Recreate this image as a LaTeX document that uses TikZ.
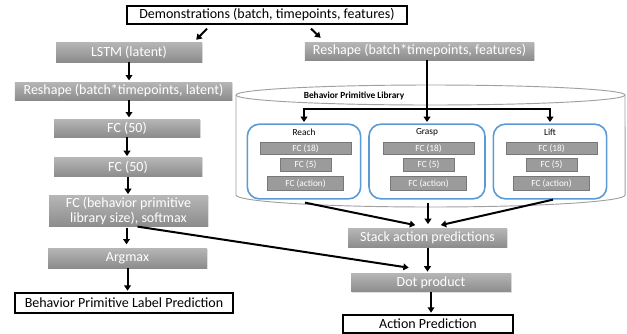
\documentclass[tikz,border=0pt]{standalone}
\usepackage{fontspec}
\setmainfont{Carlito}
\usetikzlibrary{arrows.meta,positioning,calc,shadows}
\definecolor{boxtop}{RGB}{182,182,182}
\definecolor{boxbot}{RGB}{140,140,140}
\definecolor{subgray}{RGB}{155,155,155}
\definecolor{subline}{RGB}{120,120,120}
\definecolor{libblue}{RGB}{91,155,213}
\definecolor{cylgray}{RGB}{160,160,160}

\begin{document}
\begin{tikzpicture}[
  x=0.75pt, y=-0.75pt,
  layer/.style={rectangle, top color=boxtop, bottom color=boxbot, draw=none, text=white, font=\fontsize{10.5}{12}\selectfont, align=center, inner sep=0pt, drop shadow={opacity=0.25, shadow xshift=0.6pt, shadow yshift=-0.6pt}},
  io/.style={rectangle, draw=black, line width=1.5pt, fill=white, font=\fontsize{10.5}{12}\selectfont, inner sep=0pt},
  prim/.style={rectangle, rounded corners=9pt, draw=libblue, line width=1.2pt, fill=white, minimum width=85pt, minimum height=56pt},
  sub/.style={rectangle, fill=subgray, draw=subline, line width=0.4pt, text=white, font=\fontsize{7}{8}\selectfont, inner sep=0pt, minimum height=9.5pt},
  arr/.style={-{Triangle[length=4pt,width=5pt]}, line width=1.5pt, shorten >=1pt}
]
\useasboundingbox (0,0) rectangle (627,333);

% library cylinder
\filldraw[draw=cylgray, fill=white, line width=0.7pt] (236,95) -- (236,195) arc[start angle=180, end angle=360, x radius=145.9pt, y radius=9pt] -- (625,95);
\draw[cylgray, line width=0.7pt] (430.5,95) ellipse[x radius=145.9pt, y radius=7.5pt];
\node[font=\fontsize{7}{8}\selectfont\bfseries] (libname) at (354,96) {Behavior Primitive Library};

% input and left branch
\node[io, minimum width=210pt, minimum height=13pt] (demo) at (267,15) {Demonstrations (batch, timepoints, features)};
\node[layer, minimum width=109.5pt, minimum height=15pt] (lstm) at (129,52) {LSTM (latent)};
\node[layer, minimum width=163pt, minimum height=13.5pt] (rlat) at (123.5,91) {Reshape (batch*timepoints, latent)};
\node[layer, minimum width=109.5pt, minimum height=13.5pt] (fca) at (127,128) {FC (50)};
\node[layer, minimum width=111pt, minimum height=14pt] (fcb) at (128,167) {FC (50)};
\node[layer, minimum width=119pt, minimum height=23pt] (soft) at (128.5,211) {FC (behavior primitive\\[-1pt]library size), softmax};
\node[layer, minimum width=119pt, minimum height=15pt] (argmax) at (127.5,258) {Argmax};
\node[io, minimum width=163.5pt, minimum height=15pt] (label) at (124,303) {Behavior Primitive Label Prediction};

% right branch
\node[layer, minimum width=172pt, minimum height=13.5pt] (rfeat) at (419.5,51) {Reshape (batch*timepoints, features)};
\node[prim] (reach) at (304,161.5) {};
\node[prim, minimum width=87pt] (grasp) at (427,161.5) {};
\node[prim] (lift) at (550,161.5) {};
\foreach \p/\t in {reach/Reach, grasp/Grasp, lift/Lift} {
  \node[font=\fontsize{7}{8}\selectfont] (\p-name) at ($(\p.north)+(0,9)$) {\t};
  \node[sub, minimum width=68pt] (\p-fc18) at ($(\p.north)+(1.5,25)$) {FC (18)};
  \node[sub, minimum width=38pt] (\p-fc5) at ($(\p.north)+(1.5,41.5)$) {FC (5)};
  \node[sub, minimum width=57pt, minimum height=10pt] (\p-fcact) at ($(\p.north)+(1.5,60)$) {FC (action)};
}
\node[layer, minimum width=119pt, minimum height=14pt] (stack) at (427.5,238) {Stack action predictions};
\node[layer, minimum width=120pt, minimum height=14pt] (dot) at (431,282.5) {Dot product};
\node[io, minimum width=127.5pt, minimum height=13.5pt] (action) at (428,324) {Action Prediction};
\coordinate (split) at (427,109);

\draw[arr] ($(demo.south west)+(81,4)$) -- ($(lstm.north east)+(-7,-1)$);
\draw[arr] ($(demo.south west)+(185,4)$) -- ($(rfeat.north west)+(17,-3)$);
\draw[arr] (lstm) -- (lstm |- rlat.north);
\draw[arr] (lstm |- rlat.south) -- (lstm |- fca.north);
\draw[arr] (fca) -- (fca |- fcb.north);
\draw[arr] (fcb) -- (fcb |- soft.north);
\draw[arr] ($(soft.south)+(-2,1)$) -- ($(argmax.north)+(-1,-2)$);
\draw[arr] (argmax) -- (argmax |- label.north);

\draw[arr] (grasp |- rfeat.south) -- (grasp);
\draw[arr] (split) -| (reach);
\draw[arr] (split) -| (lift);
\draw[arr] ($(reach.south)+(1,3)$) -- ($(stack.north)+(-11,-3)$);
\draw[arr] ($(grasp.south)+(1,3)$) -- ($(stack.north)+(0.5,-3)$);
\draw[arr] ($(lift.south)+(3,0)$) -- ($(stack.north)+(12,-3)$);
\draw[arr] (stack) -- (stack |- dot.north);
\draw[arr] ($(soft.south)+(9,0)$) -- ($(dot.north)+(-21,-5)$);
\draw[arr] (dot) -- (dot |- action.north);
\end{tikzpicture}
\end{document}
